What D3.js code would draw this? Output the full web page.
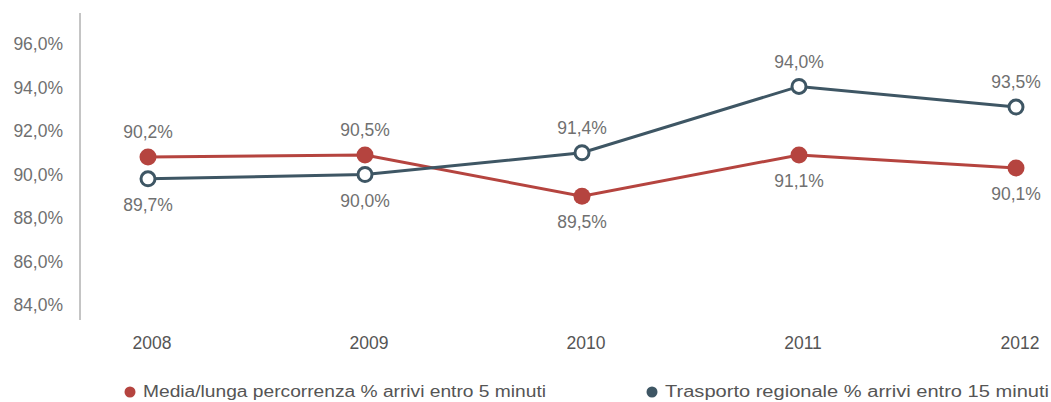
<!DOCTYPE html>
<html>
<head>
<meta charset="utf-8">
<script src="https://cdn.jsdelivr.net/npm/d3@7"></script>
<style>
  body { margin: 0; background: #fff; }
  text { font-family: "Liberation Sans", Arial, sans-serif; }
</style>
</head>
<body>
<div id="chart"></div>
<script>
let years = ["2008", "2009", "2010", "2011", "2012"]
let yTicks = [84, 86, 88, 90, 92, 94, 96]
// positions as drawn in the picture
let mediaValues = [90.8, 90.9, 89.0, 90.9, 90.3]
let regionaleValues = [89.8, 90.0, 91.0, 94.05, 93.1]
// labels as printed
let mediaLabels = ["90,2%", "90,5%", "89,5%", "91,1%", "90,1%"]
let regionaleLabels = ["89,7%", "90,0%", "91,4%", "94,0%", "93,5%"]
let seriesNames = ["Media/lunga percorrenza % arrivi entro 5 minuti", "Trasporto regionale % arrivi entro 15 minuti"]

let width = 1051, height = 402
let red = "#b5443f", blue = "#3e5664", grey = "#707070"

let svg = d3.select("#chart").append("svg")
    .attr("width", width)
    .attr("height", height)

let xScale = d3.scalePoint()
    .domain(years)
    .range([148, 1016])

let yScale = d3.scaleLinear()
    .domain([84, 96])
    .range([305, 44])

// y axis line
svg.append("line")
    .attr("x1", 80).attr("x2", 80)
    .attr("y1", 13).attr("y2", 320)
    .style("stroke", "#8a8a8a")
    .style("stroke-width", 1)

svg.append("g")
    .selectAll("text")
    .data(yTicks)
    .enter()
    .append("text")
    .attr("x", 63)
    .attr("y", d => yScale(d))
    .attr("dy", "0.35em")
    .attr("text-anchor", "end")
    .style("font-size", "17.5px")
    .style("fill", grey)
    .text(d => d3.format(".1f")(d).replace(".", ",") + "%")

svg.append("g")
    .selectAll("text")
    .data(years)
    .enter()
    .append("text")
    .attr("x", d => xScale(d) + 4)
    .attr("y", 343)
    .attr("dy", "0.35em")
    .attr("text-anchor", "middle")
    .style("font-size", "17.5px")
    .style("fill", "#555")
    .text(d => d)

let line = d3.line()
    .x((d, i) => xScale(years[i]))
    .y(d => yScale(d))

function drawSeries(values, labels, color, filled, labelAbove){
    svg.append("path")
        .datum(values)
        .attr("d", line)
        .style("fill", "none")
        .style("stroke", color)
        .style("stroke-width", 3)

    svg.append("g")
        .selectAll("circle")
        .data(values)
        .enter()
        .append("circle")
        .attr("cx", (d, i) => xScale(years[i]))
        .attr("cy", d => yScale(d))
        .attr("r", filled ? 8.5 : 7)
        .style("fill", filled ? color : "#fff")
        .style("stroke", color)
        .style("stroke-width", filled ? 0 : 3)

    svg.append("g")
        .selectAll("text")
        .data(values)
        .enter()
        .append("text")
        .attr("x", (d, i) => xScale(years[i]))
        .attr("y", (d, i) => yScale(d) + (labelAbove[i] ? -25 : 26))
        .attr("dy", "0.35em")
        .attr("text-anchor", "middle")
        .style("font-size", "17.5px")
        .style("fill", grey)
        .text((d, i) => labels[i])
}

drawSeries(mediaValues, mediaLabels, red, true, [true, true, false, false, false])
drawSeries(regionaleValues, regionaleLabels, blue, false, [false, false, true, true, true])

// legend (kept just inside the bottom edge)
let legendX = [130, 652]
let legendLen = [403, 384]
let legendColors = [red, blue]
let legend = svg.append("g")
legend.selectAll("circle")
    .data(seriesNames)
    .enter()
    .append("circle")
    .attr("cx", (d, i) => legendX[i])
    .attr("cy", 392)
    .attr("r", 5.5)
    .style("fill", (d, i) => legendColors[i])

legend.selectAll("text")
    .data(seriesNames)
    .enter()
    .append("text")
    .attr("x", (d, i) => legendX[i] + 13)
    .attr("y", 397)
    .attr("textLength", (d, i) => legendLen[i])
    .attr("lengthAdjust", "spacingAndGlyphs")
    .style("font-size", "16px")
    .style("fill", "#555")
    .text(d => d)
</script>
</body>
</html>
